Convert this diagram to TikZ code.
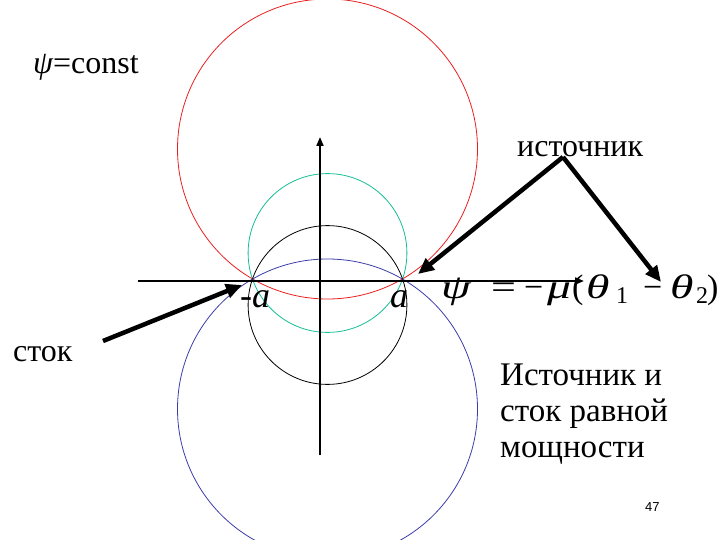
\documentclass[tikz,border=0pt]{standalone}
\usepackage{fontspec}
\usepackage{graphicx}
\setmainfont{Liberation Serif}
\newfontfamily\sansfam{Liberation Sans}
\usetikzlibrary{arrows.meta}
\definecolor{cred}{RGB}{235,30,30}
\definecolor{ccyan}{RGB}{20,190,150}
\definecolor{cblue}{RGB}{60,60,170}
\newcommand\fglyph[2]{\makebox[#1][l]{\scalebox{1.4}[1]{#2}}}
\newcommand\fplain[2]{\makebox[#1][l]{#2}}
\newcommand\fsub[1]{\raisebox{-5pt}{\fontsize{24}{24}\selectfont\upshape #1}}
\begin{document}
\begin{tikzpicture}[x=1pt,y=-1pt,
  circ/.style={line width=0.8pt},
  axisline/.style={line width=2pt,-{Triangle[length=9pt,width=7pt]}},
  bigarrow/.style={line width=4.5pt,-{Triangle[length=16pt,width=14pt]}},
  txt/.style={inner sep=0pt,anchor=base west}]
\useasboundingbox (0,0) rectangle (720,540);
% circles
\draw[circ,cred]  (327.5,149) circle (150pt);
\draw[circ,ccyan] (327.5,253) circle (79.4pt);
\draw[circ,black] (327.5,305) circle (79.4pt);
\draw[circ,cblue] (327.5,409) circle (150pt);
% axes
\coordinate (xs) at (138,281);
\coordinate (xe) at (584,281);
\coordinate (ys) at (320,455);
\coordinate (ye) at (320,137);
\draw[axisline] (xs) -- (xe);
\draw[axisline] (ys) -- (ye);
% labels
\node[txt,font=\fontsize{32}{32}\selectfont] (psiconst) at (33,74) {\itshape ψ\upshape=const};
\node[txt,font=\fontsize{32}{32}\selectfont] (ist) at (517,157) {источник};
\node[txt,font=\fontsize{32}{32}\selectfont] (stok) at (13,361) {сток};
\node[txt,font=\fontsize{36}{36}\selectfont\itshape] (ma) at (240,307) {-a};
\node[txt,font=\fontsize{36}{36}\selectfont\itshape] (pa) at (390,307) {a};
\node[txt,font=\fontsize{34}{34}\selectfont] (formula) at (441,298)
  {\fglyph{50pt}{\itshape ψ}\fplain{33pt}{\scalebox{1.3}[1]{=}}\fplain{23pt}{−}\fglyph{25pt}{\itshape μ}\fplain{14pt}{(}\fglyph{30pt}{\itshape θ}\makebox[27pt][l]{\fsub{1}}\fplain{27pt}{−}\fglyph{26pt}{\itshape θ}\makebox[11pt][l]{\fsub{2}}\fplain{10pt}{)}};
\node[inner sep=0pt,anchor=north west,align=left,font=\fontsize{33}{36}\selectfont] (desc) at (500,364)
  {Источник и\\сток равной\\мощности};
\node[txt,font=\sansfam\fontsize{13}{13}\selectfont] (page) at (645,511) {47};
% arrows
\coordinate (apex) at (563,157);
\coordinate (tipA) at (418,274);
\coordinate (tipB) at (661,282);
\coordinate (sks) at (103,341);
\coordinate (tipC) at (242,285);
\draw[bigarrow] (apex) -- (tipA);
\draw[bigarrow] (apex) -- (tipB);
\draw[bigarrow] (sks) -- (tipC);
\end{tikzpicture}
\end{document}
